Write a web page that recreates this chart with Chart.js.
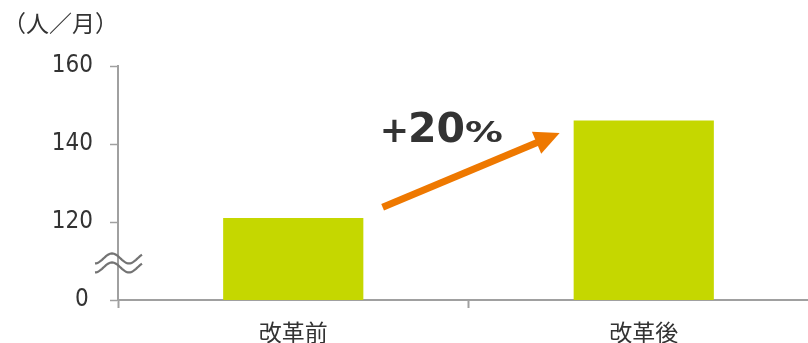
<!DOCTYPE html>
<html lang="ja">
<head>
<meta charset="utf-8">
<script src="https://cdn.jsdelivr.net/npm/chart.js@4/dist/chart.umd.min.js"></script>
<style>
    html, body { margin: 0; padding: 0; background: #fff; overflow: hidden; }
    #wrap { width: 808px; height: 343px; overflow: hidden; }
</style>
</head>
<body>
<div id="wrap"><canvas id="visitChart" width="819" height="343"></canvas></div>
<script>
// Visitors per month, before / after the reform
const categories = ['改革前', '改革後'];
const visitors = [121, 146];
const unitLabel = '（人／月）';
const growthLabel = ['+', '20', '%'];
// the y axis is broken: its bottom step (100) is shown as 0
const axisBase = 100;
const axisTop = 160;

const barColor = '#C5D700';
const axisColor = '#a0a0a0';
const textColor = '#333333';
const arrowColor = '#EE7800';
const numFont = '"DejaVu Sans Condensed", "DejaVu Sans", sans-serif';
const jpFont = '"Noto Sans CJK JP", sans-serif';

// draws the unit label, the axis break marks and the growth arrow
const overlayPlugin = {
    id: 'overlay',
    afterDraw(chart) {
        const ctx = chart.ctx;
        const x = chart.scales.x;
        const y = chart.scales.y;

        // unit label
        ctx.save();
        ctx.fillStyle = textColor;
        ctx.font = '23px ' + jpFont;
        ctx.textBaseline = 'middle';
        ctx.textAlign = 'left';
        ctx.fillText(unitLabel, 3, 23);
        ctx.restore();

        // break marks on the y axis
        const ax = y.right;
        const yc = y.getPixelForValue(109.5);
        ctx.save();
        ctx.strokeStyle = '#737373';
        ctx.lineWidth = 2.2;
        [-4.5, 4.5].forEach(off => {
            ctx.beginPath();
            for (let i = 0; i <= 47; i++) {
                const px = ax - 23 + i;
                const py = yc + off - 5 * Math.sin(-Math.PI / 2 + 2 * Math.PI * i / 34);
                if (i === 0) ctx.moveTo(px, py); else ctx.lineTo(px, py);
            }
            ctx.stroke();
        });
        ctx.restore();

        // growth arrow between the bars
        const x0 = x.getPixelForValue(0.255), y0 = y.getPixelForValue(123.8);
        const x1 = x.getPixelForValue(0.76), y1 = y.getPixelForValue(142.8);
        const ang = Math.atan2(y1 - y0, x1 - x0);
        const headLen = 25, headHalf = 12;
        const bx = x1 - headLen * Math.cos(ang), by = y1 - headLen * Math.sin(ang);
        ctx.save();
        ctx.strokeStyle = arrowColor;
        ctx.fillStyle = arrowColor;
        ctx.lineWidth = 7;
        ctx.beginPath();
        ctx.moveTo(x0, y0);
        ctx.lineTo(bx + 2 * Math.cos(ang), by + 2 * Math.sin(ang));
        ctx.stroke();
        ctx.beginPath();
        ctx.moveTo(x1, y1);
        ctx.lineTo(bx + headHalf * Math.sin(ang), by - headHalf * Math.cos(ang));
        ctx.lineTo(bx - headHalf * Math.sin(ang), by + headHalf * Math.cos(ang));
        ctx.closePath();
        ctx.fill();
        ctx.restore();

        // growth label: "+", big "20", wide "%"
        const base = y.getPixelForValue(140.5);
        ctx.save();
        ctx.fillStyle = textColor;
        ctx.textBaseline = 'alphabetic';
        ctx.textAlign = 'left';
        let tx = x0 - 3;
        ctx.font = 'bold 35px "DejaVu Sans", sans-serif';
        ctx.fillText(growthLabel[0], tx, base);
        tx += ctx.measureText(growthLabel[0]).width - 1;
        ctx.font = 'bold 41px "DejaVu Sans", sans-serif';
        ctx.fillText(growthLabel[1], tx, base);
        tx += ctx.measureText(growthLabel[1]).width;
        ctx.font = 'bold 28px "DejaVu Sans", sans-serif';
        ctx.translate(tx, base);
        ctx.scale(1.35, 1);
        ctx.fillText(growthLabel[2], 0, 0);
        ctx.restore();
    }
};

new Chart(document.getElementById('visitChart'), {
    type: 'bar',
    data: {
        labels: categories,
        datasets: [{
            data: visitors,
            backgroundColor: barColor,
            borderWidth: 0,
            barPercentage: 0.4,
            categoryPercentage: 1
        }]
    },
    options: {
        responsive: false,
        animation: false,
        devicePixelRatio: 1,
        layout: { padding: { top: 66, right: 0, left: 0, bottom: 0 } },
        plugins: {
            legend: { display: false },
            tooltip: { enabled: false }
        },
        scales: {
            x: {
                offset: true,
                grid: {
                    offset: true,
                    drawOnChartArea: false,
                    tickLength: 8,
                    tickWidth: 2,
                    tickColor: axisColor
                },
                border: { color: axisColor, width: 2 },
                ticks: {
                    color: textColor,
                    font: { family: jpFont, size: 23 },
                    padding: 10
                },
                afterFit(scale) { scale.height = 43; }
            },
            y: {
                min: axisBase,
                max: axisTop,
                grid: {
                    drawOnChartArea: false,
                    tickLength: 8,
                    tickWidth: 1.5,
                    tickColor: axisColor
                },
                border: { color: axisColor, width: 2 },
                ticks: {
                    stepSize: 20,
                    color: textColor,
                    padding: 17,
                    font: { family: numFont, size: 24 },
                    // the bottom step stands for zero, set a little further left
                    callback: v => (v === axisBase ? '0\u2009' : v)
                },
                afterFit(scale) { scale.width = 118; }
            }
        }
    },
    plugins: [overlayPlugin]
});
</script>
</body>
</html>
